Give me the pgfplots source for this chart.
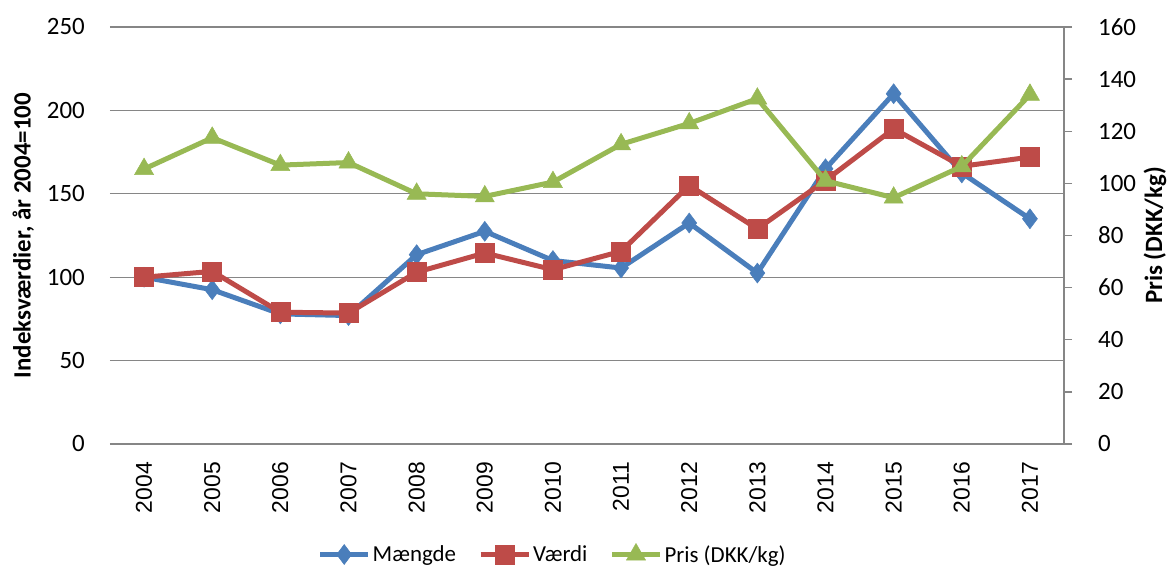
\documentclass[border=0pt]{standalone}
\usepackage{fontspec}
\setmainfont{Carlito}
\newfontfamily\arialf{Liberation Sans}
\usepackage{pgfplots}
\pgfplotsset{compat=1.18}
\definecolor{cblue}{HTML}{4A7EBB}
\definecolor{cred}{HTML}{BE4B48}
\definecolor{cgreen}{HTML}{98B954}
\definecolor{gridc}{HTML}{868686}
\pgfplotsset{
  common/.style={
    width=954bp, height=417bp, scale only axis,
    xmin=-0.5, xmax=13.5,
    /pgf/number format/assume math mode=true,
    y tick label style={font=\fontsize{25}{29}\selectfont, inner sep=0pt},
    label style={font=\fontsize{25}{29}\selectfont\bfseries},
  },
  sm/.style={line width=5bp, mark options={solid, line width=0.5bp}},
}
\begin{document}
\begin{tikzpicture}
\path[use as bounding box] (-110bp,-124bp) rectangle (1060bp,444bp);
\begin{axis}[common,
  ymin=0, ymax=250, ytick={0,50,...,250},
  xtick={0,...,13},
  xticklabels={2004,2005,2006,2007,2008,2009,2010,2011,2012,2013,2014,2015,2016,2017},
  x tick label style={rotate=90, anchor=east, inner sep=0pt, font=\arialf\fontsize{23}{27}\selectfont},
  xticklabel shift=18bp, yticklabel shift=25bp,
  major tick length=0pt,
  axis line style={draw=none},
  ymajorgrids, grid style={gridc, line width=1.3bp},
  ylabel={Indeksværdier, år 2004=100},
  ylabel style={at={(axis description cs:-0.091,0.5)}, anchor=center},
  legend style={at={(axis description cs:0.464,-0.265)}, anchor=center, draw=none,
    legend columns=3, font=\fontsize{23}{27}\selectfont,
    nodes={inner sep=2bp},
    /tikz/every even column/.append style={column sep=20bp}},
  legend image code/.code={\draw[mark repeat=2,mark phase=2] plot coordinates {(0bp,0bp) (24bp,0bp) (48bp,0bp)};},
]
\addplot[cblue, sm, mark=diamond*, mark size=10bp] coordinates {
(0,100) (1,92.5) (2,78) (3,77) (4,113.5) (5,127.5) (6,110) (7,105.5) (8,132.5) (9,102.5) (10,165) (11,210) (12,162.5) (13,135)};
\addlegendentry{Mængde}
\addplot[cred, sm, mark=square*, mark size=9.5bp] coordinates {
(0,100) (1,103.5) (2,79) (3,78.5) (4,103) (5,114.5) (6,104.5) (7,115.5) (8,155) (9,129) (10,158) (11,189) (12,166.5) (13,172)};
\addlegendentry{Værdi}
\addlegendimage{cgreen, sm, mark=triangle*, mark size=11bp}
\addlegendentry{Pris (DKK/kg)}
\end{axis}
\begin{axis}[common,
  ymin=0, ymax=160, ytick={0,20,...,160},
  axis x line=none, axis y line*=right,
  axis line style={gridc, line width=1.3bp},
  tick style={gridc, line width=1.3bp},
  tick align=outside, major tick length=8bp,
  yticklabel shift=26bp,
  ylabel={Pris (DKK/kg)},
  ylabel style={at={(axis description cs:1.0954,0.5)}, anchor=center, rotate=0},
]
\addplot[cgreen, sm, mark=triangle*, mark size=11bp] coordinates {
(0,105.5) (1,117.5) (2,107) (3,108) (4,96) (5,95) (6,100.5) (7,115) (8,123) (9,132.5) (10,101) (11,94.5) (12,106.5) (13,134)};
\end{axis}
\end{tikzpicture}
\end{document}
